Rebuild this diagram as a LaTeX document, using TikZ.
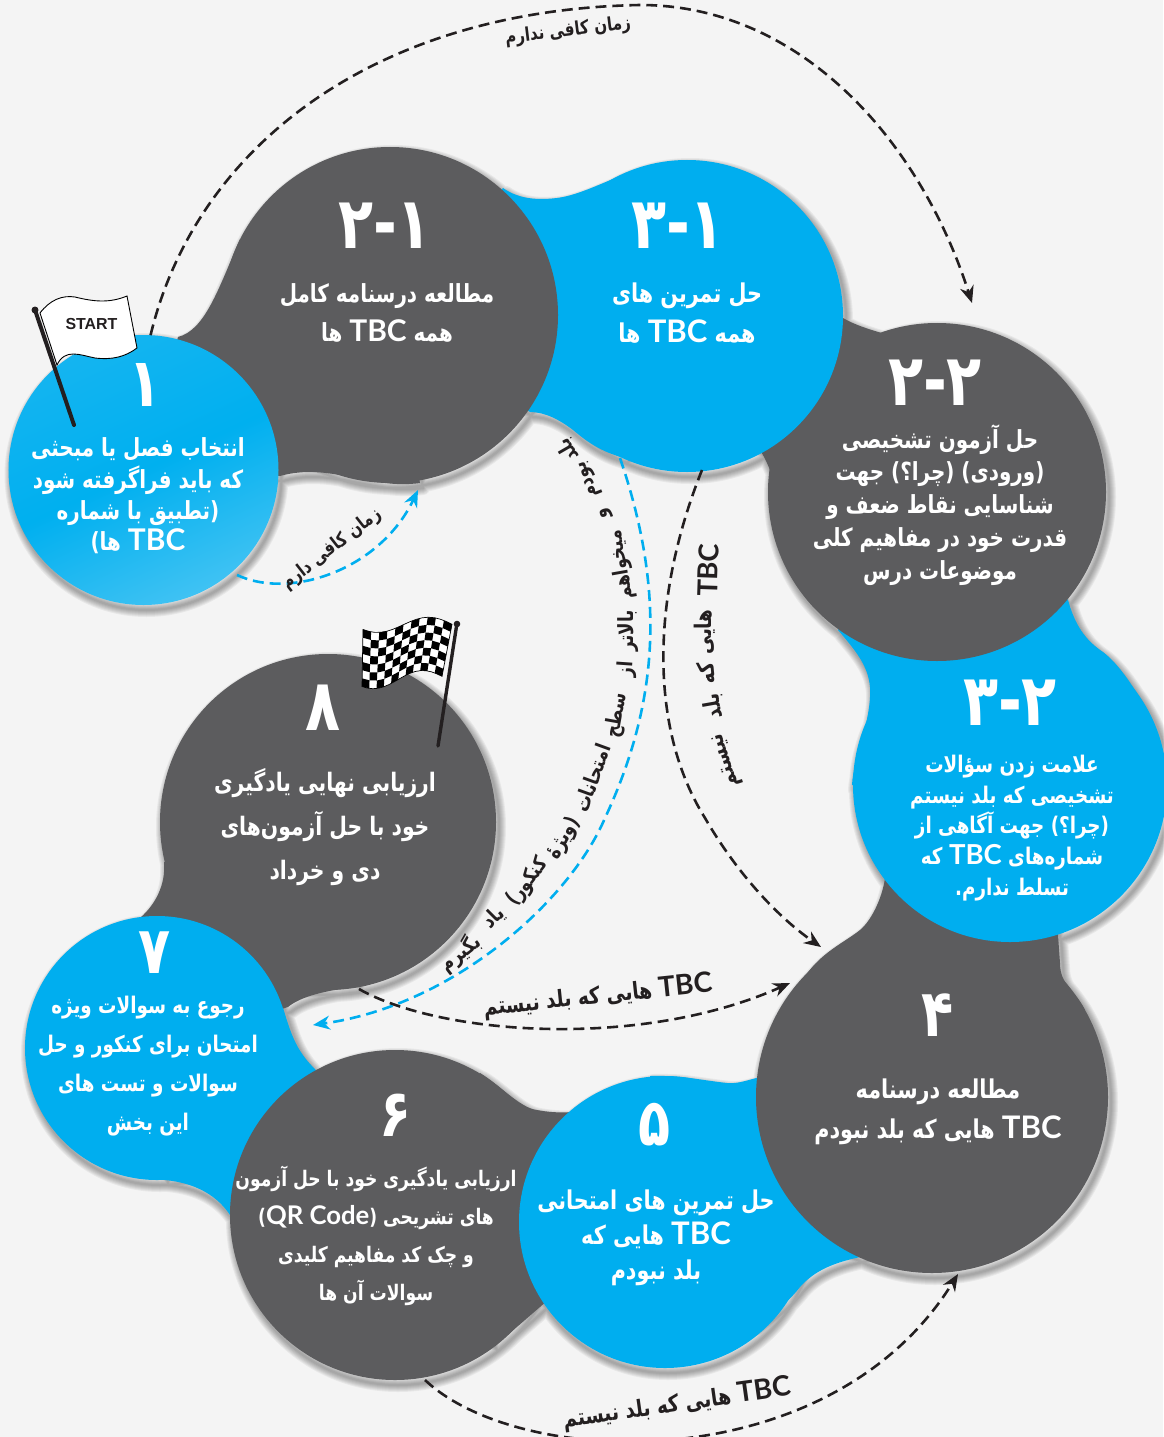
\documentclass[tikz,border=0pt]{standalone}
\usepackage{fontspec}
\usetikzlibrary{arrows.meta}
\TeXXeTstate=1
\newfontfamily\fan[Script=Arabic,FakeStretch=0.8]{DejaVu Sans}
\newfontfamily\lat{Liberation Sans}
\newfontfamily\tbcf[Scale=1.2]{Lato}
\definecolor{pgray}{HTML}{5C5C5E}
\definecolor{pblue}{HTML}{00AEEF}
\definecolor{pbg}{HTML}{F4F4F4}
\definecolor{ink}{HTML}{231F20}
\newcommand{\RT}[1]{\beginR #1\endR}
\newcommand{\TBCL}{{\tbcf\beginL TBC\endL}}
\newcommand{\neckgray}{
 (178,337) .. controls (205,330) and (218,290) .. (240,239) -- (390,315) -- (420,483) .. controls (370,490) and (330,462) .. (280,476) -- (143,470) -- cycle
 (843,318) .. controls (855,325) and (868,329) .. (885,334) -- (937,492) -- (770,470) .. controls (768,465) and (765,458) .. (760,450) -- (687,316) -- cycle
 (885,878) .. controls (882,900) and (870,922) .. (860,930) .. controls (845,942) and (822,952) .. (806,975) -- (932,1097) -- (1085,1010) .. controls (1075,990) and (1060,985) .. (1060,963) -- (1058,935) -- (1010,785) -- cycle
 (480,1073) .. controls (500,1085) and (520,1108) .. (537,1110) .. controls (548,1112) and (558,1113) .. (572,1112) -- (665,1222) -- (548,1300) -- (495,1346) -- (395,1215) -- cycle
 (164,862) .. controls (166,885) and (155,905) .. (140,918) -- (157,1048) -- (288,1007) .. controls (300,997) and (325,990) .. (358,987) -- (328,822) -- cycle
}
\newcommand{\neckblue}{
 (503,188) .. controls (520,200) and (540,200) .. (557,198) .. controls (580,195) and (603,182) .. (636,170) -- (687,316) -- (625,458) .. controls (600,452) and (585,440) .. (573,430) .. controls (560,420) and (545,412) .. (530,412) -- (390,315) -- cycle
 (1068,600) .. controls (1075,625) and (1085,640) .. (1103,652) .. controls (1120,665) and (1136,690) .. (1150,716) -- (1010,785) -- (852,785) .. controls (853,760) and (872,720) .. (870,687) .. controls (868,665) and (855,650) .. (838,630) -- (937,492) -- cycle
 (650,1076) .. controls (680,1075) and (700,1080) .. (727,1083) .. controls (738,1084) and (748,1080) .. (760,1077) -- (932,1097) -- (865,1256) .. controls (835,1262) and (815,1270) .. (800,1287) .. controls (790,1300) and (775,1313) .. (755,1326) -- (665,1222) -- cycle
 (283,1008) .. controls (290,1030) and (295,1050) .. (315,1069) -- (395,1215) -- (232,1218) .. controls (218,1195) and (195,1183) .. (165,1180) -- (157,1048) -- cycle
}
\newcommand{\allcircles}{
 (143.5,470) circle[radius=135] (390,315) circle[radius=168] (687,316) circle[radius=156]
 (937,492) circle[radius=169] (1010,785) circle[radius=157] (932,1097) circle[radius=176]
 (665,1222) circle[radius=146] (395,1215) circle[radius=165] (157,1048) circle[radius=132]
 (328,822) circle[radius=168]
}
\begin{document}
\begin{tikzpicture}[x=1bp,y=-1bp,
  disc/.style={circle,inner sep=0pt,outer sep=0pt,minimum size=2*#1 bp},
  gdisc/.style={disc=#1,fill=pgray},
  bdisc/.style={disc=#1,fill=pblue},
  wt/.style 2 args={text=white,align=center,inner sep=0pt,font=\fan\bfseries\fontsize{#1}{#2}\selectfont},
  num/.style={text=white,inner sep=0pt,font=\fan\bfseries\fontsize{#1}{#1}\selectfont},
  lb/.style={text=ink,inner sep=0pt,font=\fan\bfseries\fontsize{#1}{#1}\selectfont},
  blk/.style={draw=ink,line width=2.6pt,dash pattern=on 11pt off 6pt,-{Stealth[length=17pt,width=14pt]}},
  blu/.style={draw=pblue,line width=2.6pt,dash pattern=on 11pt off 6pt,-{Stealth[length=17pt,width=14pt]}},
  declare function={
    fx(\u,\v)=363+\u*(452-363)-\v*(1+9*\u);
    fy(\u,\v)=(623.5+8.5*cos(300*(\u-.15))+3*\u)+\v*(57-5*\u);
  }]
\useasboundingbox (0,0) rectangle (1163,1437);
\fill[pbg] (0,0) rectangle (1163,1437);
% soft shadow
\foreach \w in {2,4,...,14}{
  \draw[black,opacity=0.05,line width=\w bp,line join=round,shift={(3,5)}] \neckgray \neckblue \allcircles;
}
\fill[pgray] \neckgray;
\fill[pblue] \neckblue;
% discs
\node[gdisc=168] (c8) at (328,822) {};
\node[bdisc=132] (c7) at (157,1048) {};
\node[gdisc=165] (c6) at (395,1215) {};
\node[bdisc=146] (c5) at (665,1222) {};
\node[gdisc=176] (c4) at (932,1097) {};
\node[bdisc=157] (c32) at (1010,785) {};
\node[gdisc=169] (c22) at (937,492) {};
\node[bdisc=156] (c31) at (687,316) {};
\node[gdisc=168] (c21) at (390,315) {};
\node[disc=135,top color=pblue!92!white,bottom color=pblue!75!white,middle color=pblue!98!cyan,shading angle=25] (c1) at (143.5,470) {};
% free connector ends
\coordinate (e45) at (972,303);
\coordinate (s31a) at (620,458);
\coordinate (s31b) at (702,470);
\coordinate (s1) at (237,575);
\coordinate (e21) at (418,490);
\coordinate (e7) at (313,1025);
\coordinate (e4a) at (821,947);
\coordinate (s8) at (359,989);
\coordinate (e4b) at (790,983);
\coordinate (s6) at (425,1380);
\coordinate (e4c) at (958,1274);
\coordinate (m1) at (640,5);
\coordinate (m2) at (605,818);
\coordinate (m3) at (705,818);
% connectors
\draw[blk] (c1.87) .. controls (195,150) and (370,10) .. (m1) .. controls (800,5) and (920,140) .. (e45);
\draw[blu] (s1) .. controls (290,600) and (380,570) .. (e21);
\draw[blu] (s31a) .. controls (665,590) and (660,700) .. (m2) .. controls (570,900) and (455,1005) .. (e7);
\draw[blk] (s31b) .. controls (650,600) and (650,730) .. (m3) .. controls (735,870) and (775,915) .. (e4a);
\draw[blk] (s8) .. controls (440,1035) and (640,1050) .. (e4b);
\draw[blk] (s6) .. controls (520,1470) and (830,1480) .. (e4c);
% numbers
\node[num=68] (n1) at (145,385) {۱};
\node[num=72] (n21) at (385,226) {۲-۱};
\node[num=72] (n31) at (678,226) {۳-۱};
\node[num=72] (n22) at (935,383) {۲-۲};
\node[num=72] (n32) at (1010,703) {۳-۲};
\node[num=66] (n4) at (938,1015) {۴};
\node[num=66] (n5) at (655,1125) {۵};
\node[num=66] (n6) at (396,1115) {۶};
\node[num=66] (n7) at (155,953) {۷};
\node[num=72] (n8) at (323,708) {۸};
% white texts
\node[wt={25}{31.5}] (t1) at (138,496) {\RT{انتخاب فصل یا مبحثی}\\\RT{که باید فراگرفته شود}\\\RT{(تطبیق با شماره}\\\RT{\TBCL{} ها)}};
\node[wt={25}{40}] (t21) at (387,313) {\RT{مطالعه درسنامه کامل}\\\RT{همه \TBCL{} ها}};
\node[wt={26}{40}] (t31) at (687,313) {\RT{حل تمرین های}\\\RT{همه \TBCL{} ها}};
\node[wt={25}{33}] (t22) at (940,505) {\RT{حل آزمون تشخیصی}\\\RT{(ورودی) (چرا؟) جهت}\\\RT{شناسایی نقاط ضعف و}\\\RT{قدرت خود در مفاهیم کلی}\\\RT{موضوعات درس}};
\node[wt={23}{31}] (t32) at (1012,828) {\RT{علامت زدن سؤالات}\\\RT{تشخیصی که بلد نیستم}\\\RT{(چرا؟) جهت آگاهی از}\\\RT{شماره‌های \TBCL{} که}\\\RT{تسلط ندارم.}};
\node[wt={26}{40}] (t4) at (938,1112) {\RT{مطالعه درسنامه}\\\RT{\TBCL{} هایی که بلد نبودم}};
\node[wt={26}{35}] (t5) at (656,1238) {\RT{حل تمرین های امتحانی}\\\RT{\TBCL{} هایی که}\\\RT{بلد نبودم}};
\node[wt={21.5}{38}] (t6) at (376,1236) {\RT{ارزیابی یادگیری خود با حل آزمون}\\\RT{های تشریحی ({\tbcf\beginL QR Code\endL})}\\\RT{و چک کد مفاهیم کلیدی}\\\RT{سوالات آن ها}};
\node[wt={23}{39}] (t7) at (148,1066) {\RT{رجوع به سوالات ویژه}\\\RT{امتحان برای کنکور و حل}\\\RT{سوالات و تست های}\\\RT{این بخش}};
\node[wt={25.5}{44}] (t8) at (325,827) {\RT{ارزیابی نهایی یادگیری}\\\RT{خود با حل آزمون‌های}\\\RT{دی و خرداد}};
% connector labels
\node[lb=19,rotate=7] (l1) at (568,31) {\RT{زمان کافی ندارم}};
\node[lb=19,rotate=38] (l2) at (332,549) {\RT{زمان کافی دارم}};
\node[lb=23.5,rotate=6] (l3) at (598,996) {\RT{\TBCL{} هایی که بلد نیستم}};
\node[lb=23.5,rotate=8] (l4) at (677,1404) {\RT{\TBCL{} هایی که بلد نیستم}};
% right vertical label
\node[lb=23,rotate=88] (v1) at (708,570) {\TBCL};
\node[lb=23,rotate=90] (v2) at (705,632) {\RT{هایی}};
\node[lb=23,rotate=95] (v3) at (706,673) {\RT{که}};
\node[lb=23,rotate=100] (v4) at (714,706) {\RT{بلد}};
\node[lb=23,rotate=108] (v5) at (727,760) {\RT{نیستم}};
% long blue label
\node[lb=21,rotate=120] (w1) at (568,450) {\RT{بلد}};
\node[lb=21,rotate=112] (w2) at (590,479) {\RT{بودم}};
\node[lb=21,rotate=108] (w3) at (606,513) {\RT{و}};
\node[lb=21,rotate=100] (w4) at (621,565) {\RT{میخواهم}};
\node[lb=21,rotate=90] (w5) at (628,631) {\RT{بالاتر}};
\node[lb=21,rotate=86] (w6) at (627,669) {\RT{از}};
\node[lb=21,rotate=80] (w7) at (617,715) {\RT{سطح}};
\node[lb=21,rotate=70] (w8) at (592,778) {\RT{امتحانات}};
\node[lb=21,rotate=60] (w9) at (564,838) {\RT{(ویژهٔ}};
\node[lb=21,rotate=52] (w10) at (528,882) {\RT{کنکور)}};
\node[lb=21,rotate=45] (w11) at (494,918) {\RT{یاد}};
\node[lb=21,rotate=38] (w12) at (460,953) {\RT{بگیرم}};
% start flag
\draw[ink,line width=4pt,line cap=round] (35,310) -- (74,425);
\fill[ink] (35,310) circle[radius=3.5];
\draw[black,line width=.9pt,fill=white] (40,313) .. controls (50,300) and (62,295) .. (75,297) .. controls (95,302) and (110,303) .. (127,296) -- (137,348) .. controls (125,357) and (112,360) .. (95,358) .. controls (80,355) and (65,348) .. (57,365) -- cycle;
\node[text=ink,inner sep=0pt,font=\lat\bfseries\fontsize{16}{16}\selectfont] (start) at (91.5,324) {START};
% finish flag
\fill[white] plot[domain=0:1,samples=16] ({fx(\x,0)},{fy(\x,0)}) -- plot[domain=1:0,samples=16] ({fx(\x,1)},{fy(\x,1)}) -- cycle;
\foreach \i in {0,...,10}{
  \foreach \j in {0,...,6}{
    \pgfmathparse{int(mod(\i+\j,2))}
    \ifnum\pgfmathresult=0
      \pgfmathsetmacro{\ua}{\i/11}\pgfmathsetmacro{\ub}{(\i+1)/11}
      \pgfmathsetmacro{\va}{\j/7}\pgfmathsetmacro{\vb}{(\j+1)/7}
      \fill[black] ({fx(\ua,\va)},{fy(\ua,\va)}) -- ({fx(\ub,\va)},{fy(\ub,\va)}) -- ({fx(\ub,\vb)},{fy(\ub,\vb)}) -- ({fx(\ua,\vb)},{fy(\ua,\vb)}) -- cycle;
    \fi
  }
}
\draw[black,line width=.7pt] plot[domain=0:1,samples=16] ({fx(\x,0)},{fy(\x,0)}) -- plot[domain=1:0,samples=16] ({fx(\x,1)},{fy(\x,1)}) -- cycle;
\draw[ink,line width=3.4pt,line cap=round] (457,623) -- (438,746);
\fill[ink] (457,624) circle[radius=3.3];
\end{tikzpicture}
\end{document}
